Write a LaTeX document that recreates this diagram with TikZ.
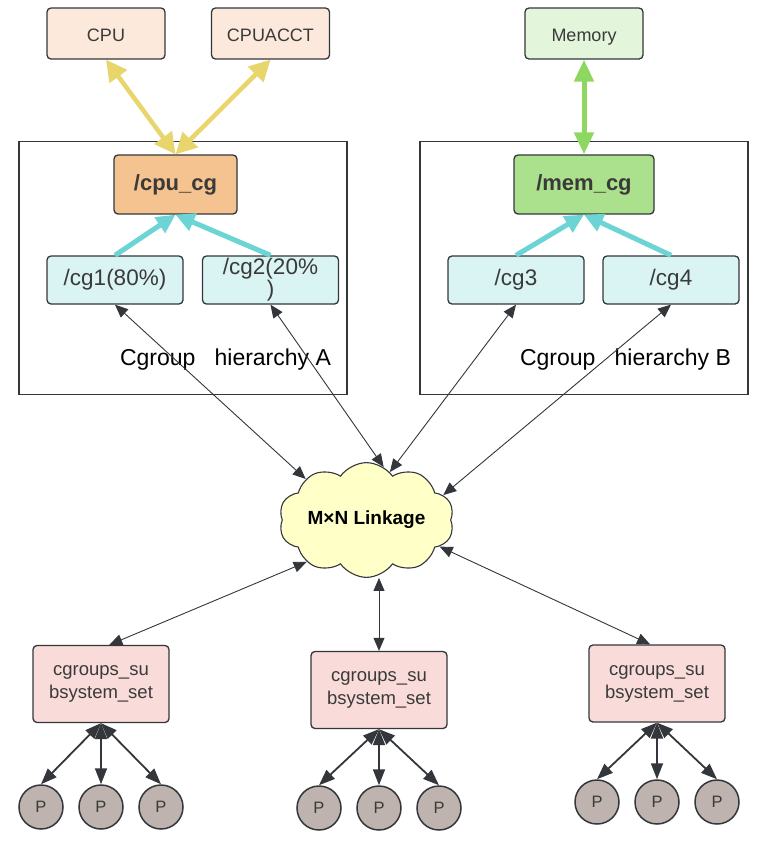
\documentclass[tikz,border=0pt]{standalone}
\usepackage{fontspec}
\setmainfont{Liberation Sans}
\usetikzlibrary{arrows.meta,shapes.symbols}
\definecolor{ink}{HTML}{33373B}
\definecolor{txt}{HTML}{3A3A3A}
\definecolor{peach}{HTML}{FCE9DB}
\definecolor{orangebox}{HTML}{F5C38F}
\definecolor{lightgreen}{HTML}{E3F5DA}
\definecolor{greenbox}{HTML}{ABE08D}
\definecolor{cyanbox}{HTML}{DAF3F3}
\definecolor{cloudfill}{HTML}{FFFFC8}
\definecolor{pinkbox}{HTML}{F9DBD9}
\definecolor{pfill}{HTML}{BEB3AE}
\definecolor{yellowarrow}{HTML}{E8D56B}
\definecolor{greenarrow}{HTML}{8ED862}
\definecolor{cyanarrow}{HTML}{6CD4D5}
\tikzset{
  resbox/.style={rectangle, rounded corners=4pt, draw=ink, line width=1.3pt, minimum width=118pt, minimum height=51pt, inner sep=0pt, text=txt, text height=18pt, text depth=2pt, font=\fontsize{18}{22}\selectfont},
  cgmain/.style={rectangle, rounded corners=4pt, draw=ink, line width=1.3pt, minimum width=123pt, minimum height=59pt, inner sep=0pt, text=txt, font=\bfseries\fontsize{22}{26}\selectfont},
  cgsub/.style={rectangle, rounded corners=4pt, draw=ink, line width=1.3pt, fill=cyanbox, minimum width=136pt, minimum height=48pt, inner sep=0pt, text=txt, align=center, font=\fontsize{22.5}{22}\selectfont},
  hier/.style={rectangle, draw=ink, line width=1.6pt, minimum width=328pt, minimum height=253pt, inner sep=0pt},
  hierlabel/.style={anchor=base, text=black, font=\fontsize{23}{27}\selectfont},
  setbox/.style={rectangle, rounded corners=4pt, draw=ink, line width=1.3pt, fill=pinkbox, minimum width=136pt, minimum height=77pt, inner sep=0pt, text=txt, align=center, font=\fontsize{18.5}{23}\selectfont},
  proc/.style={circle, draw=ink, line width=1.5pt, fill=pfill, minimum size=44pt, inner sep=0pt, text=txt, font=\fontsize{16.5}{18}\selectfont},
  yarrow/.style={draw=yellowarrow, line width=4.5pt, {Triangle[length=21pt,width=21pt]}-{Triangle[length=21pt,width=21pt]}, color=yellowarrow},
  garrow/.style={draw=greenarrow, line width=5pt, {Triangle[length=22pt,width=19pt]}-{Triangle[length=22pt,width=19pt]}, color=greenarrow},
  carrow/.style={draw=cyanarrow, line width=5pt, -{Triangle[length=19pt,width=18pt]}, color=cyanarrow},
  linkarrow/.style={draw=ink, line width=0.9pt, {Triangle[length=13pt,width=11pt]}-{Triangle[length=13pt,width=11pt]}},
  parrow/.style={draw=ink, line width=1.8pt, {Triangle[length=16pt,width=12pt]}-{Triangle[length=16pt,width=12pt]}}
}
\begin{document}
\begin{tikzpicture}[x=1pt,y=-1pt]
\useasboundingbox[fill=white] (0,0) rectangle (756,847);

% hierarchy frames
\node[hier] (hierA) at (183,268) {};
\node[hier] (hierB) at (584,268) {};
\node[hierlabel] (labA) at (225.5,365) {Cgroup\ \ \ hierarchy A};
\node[hierlabel] (labB) at (625.5,365) {Cgroup\ \ \ hierarchy B};

% resources
\node[resbox, fill=peach] (cpu) at (106,33.5) {CPU};
\node[resbox, fill=peach] (cpuacct) at (270.5,33.5) {CPUACCT};
\node[resbox, fill=lightgreen] (mem) at (584,33.5) {Memory};

% cgroups
\node[cgmain, fill=orangebox] (cpucg) at (175.5,184.5) {/cpu\_cg};
\node[cgmain, fill=greenbox, minimum width=140pt] (memcg) at (584,184.5) {/mem\_cg};
\node[cgsub] (cg1) at (115,280) {/cg1(80\%)};
\node[cgsub] (cg2) at (270.5,280) {/cg2(20\%\\)};
\node[cgsub] (cg3) at (516,280) {/cg3};
\node[cgsub] (cg4) at (671,280) {/cg4};

% cloud
\node[cloud, cloud puffs=10, cloud puff arc=110, aspect=1.8, draw=ink, line width=1.1pt, fill=cloudfill, minimum width=175pt, minimum height=96pt, inner sep=0pt, text=black, font=\bfseries\fontsize{19}{22}\selectfont] (link) at (366.5,520) {M×N Linkage};

% subsystem sets
\node[setbox] (set1) at (101,684) {cgroups\_su\\bsystem\_set};
\node[setbox] (set2) at (379,690) {cgroups\_su\\bsystem\_set};
\node[setbox] (set3) at (657,683.5) {cgroups\_su\\bsystem\_set};

% processes
\node[proc] (p11) at (41,807) {P};
\node[proc] (p12) at (101,807) {P};
\node[proc] (p13) at (161,807) {P};
\node[proc] (p21) at (319,808) {P};
\node[proc] (p22) at (379,808) {P};
\node[proc] (p23) at (439,808) {P};
\node[proc] (p31) at (597,802) {P};
\node[proc] (p32) at (657,802) {P};
\node[proc] (p33) at (717,802) {P};

% thick arrows
\draw[yarrow] (cpu.south) -- (cpucg.north);
\draw[yarrow] (cpuacct.south) -- (cpucg.north);
\draw[garrow] (mem.south) -- (memcg.north);
\draw[carrow] (cg1.north) -- (cpucg.south);
\draw[carrow] (cg2.north) -- (cpucg.south);
\draw[carrow] (cg3.north) -- (memcg.south);
\draw[carrow] (cg4.north) -- (memcg.south);

% linkage arrows
\draw[linkarrow] (cg1.south) -- (link.146);
\draw[linkarrow] (cg2.south) -- (link.72);
\draw[linkarrow] (cg3.south) -- (link.64);
\draw[linkarrow] (cg4.south) -- (link.18);
\draw[linkarrow] (link.215) -- (set1.78);
\draw[linkarrow] (link.south -| set2.north) -- (set2.north);
\draw[linkarrow] (link.340) -- (set3.100);

% process arrows
\foreach \s/\a/\b/\c in {set1/p11/p12/p13, set2/p21/p22/p23, set3/p31/p32/p33}{
  \draw[parrow] (\s.south) -- (\a.north);
  \draw[parrow] (\s.south) -- (\b.north);
  \draw[parrow] (\s.south) -- (\c.north);
}
\end{tikzpicture}
\end{document}
